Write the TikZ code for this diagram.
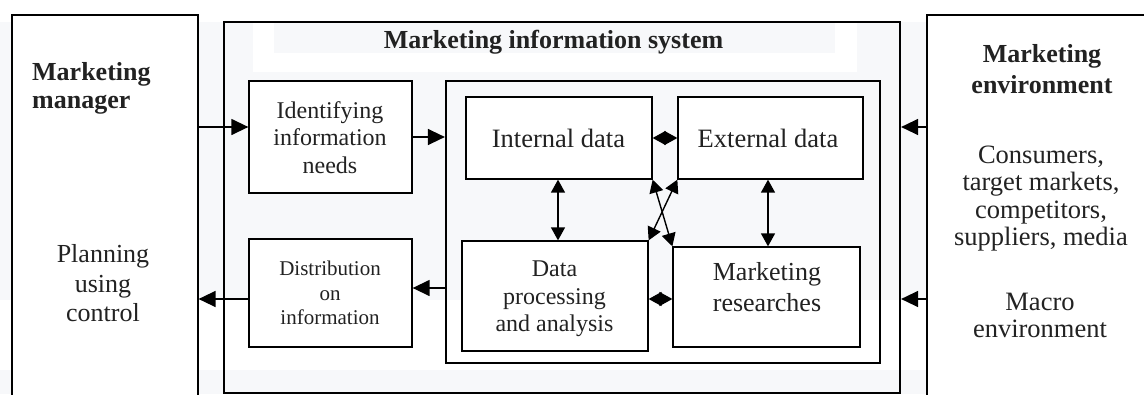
\documentclass[tikz,border=0pt]{standalone}
\usepackage{fontspec}
\setmainfont{Liberation Serif}
\usetikzlibrary{arrows.meta}
\definecolor{bg}{HTML}{F7F8FA}
\definecolor{ink}{HTML}{222222}
\newcommand\fsz[2]{\fontsize{#1}{#2}\selectfont}
\begin{document}
\begin{tikzpicture}[x=1pt,y=-1pt,
  box/.style={draw=black, fill=white, line width=1.3pt, inner sep=0pt},
  frame/.style={draw=black, line width=2.2pt, inner sep=0pt},
  side/.style={draw=black, fill=white, line width=1.2pt, inner sep=0pt},
  txt/.style={text=ink, inner sep=0pt, align=center},
  arr/.style={-{Triangle[length=17pt,width=16pt]}, line width=1.4pt},
  dbl/.style={{Triangle[length=13pt,width=14pt]}-{Triangle[length=13pt,width=14pt]}, line width=1.4pt}]
\useasboundingbox (0,0) rectangle (1144,394);
\clip (0,0) rectangle (1144,394);
% background patches
\fill[bg] (0,22) rectangle (1144,300);
\fill[bg] (0,370) rectangle (1144,394);
\fill[white] (253,22) rectangle (857,72);
\fill[bg] (274,23) rectangle (835,53);
% side boxes
\node[side, minimum width=186, minimum height=395] (mgr) at (105,212.5) {};
\node[side, minimum width=233, minimum height=395] (env) at (1043.5,212.5) {};
% frames
\node[frame, minimum width=676, minimum height=371] (mis) at (562,207.5) {};
\node[frame, minimum width=434, minimum height=282] (inner) at (663,222) {};
% boxes
\node[box, minimum width=163, minimum height=112] (ident) at (330.5,137) {};
\node[box, minimum width=163, minimum height=108] (dist) at (330.5,293) {};
\node[box, minimum width=186, minimum height=82] (intd) at (559,138) {};
\node[box, minimum width=185, minimum height=82] (extd) at (770.5,138) {};
\node[box, minimum width=186, minimum height=110] (dpa) at (555,296) {};
\node[box, minimum width=187, minimum height=100] (mr) at (766.5,297) {};
% texts
\node[txt, font=\bfseries\fsz{26}{28}, anchor=west, align=left] (mgrt) at (32,88) {Marketing\\manager};
\node[txt, font=\fsz{26}{29.5}] (plan) at (103,283.5) {Planning\\using\\control};
\node[txt, font=\bfseries\fsz{26}{28}] (mist) at (553.5,42) {Marketing information system};
\node[txt, font=\bfseries\fsz{26}{31}] (envt) at (1042,69.5) {Marketing\\environment};
\node[txt, font=\fsz{26.5}{27.5}] (cons) at (1041,198.3) {Consumers,\\target markets,\\competitors,\\suppliers, media};
\node[txt, font=\fsz{26.5}{27}] (macro) at (1040,315) {Macro\\environment};
\node[txt, font=\fsz{24}{27.5}] (identt) at (330,137.3) {Identifying\\information\\needs};
\node[txt, font=\fsz{26.5}{28}] (intdt) at (558.5,138) {Internal data};
\node[txt, font=\fsz{26.5}{28}] (extdt) at (768,138) {External data};
\node[txt, font=\fsz{24}{27.5}] (dpat) at (554.5,299) {Data\\processing\\and analysis};
\node[txt, font=\fsz{26}{31}] (mrt) at (767,287.5) {Marketing\\researches};
\node[txt, font=\fsz{21}{24.5}] (distt) at (330,293.3) {Distribution\\on\\information};
% connectors
\draw[arr] (mgr.east |- {(0,127)}) -- (ident.west |- {(0,127)});
\draw[arr] (ident.east) -- (inner.west |- ident.east);
\draw[dbl] (intd.east) -- (extd.west |- intd.east);
\draw[dbl] (intd.south -| {(558,0)}) -- (dpa.north -| {(558,0)});
\draw[dbl] (extd.south -| {(768,0)}) -- (mr.north -| {(768,0)});
\draw[dbl] (intd.south east) -- (mr.north west);
\draw[dbl] (extd.south west) -- (dpa.north east);
\draw[dbl] (dpa.east |- {(0,299)}) -- (mr.west |- {(0,299)});
\draw[arr] (inner.west |- {(0,288)}) -- (dist.east |- {(0,288)});
\draw[arr] (dist.west |- {(0,299)}) -- (mgr.east |- {(0,299)});
\draw[arr] (env.west |- {(0,127)}) -- (mis.east |- {(0,127)});
\draw[arr] (env.west |- {(0,299)}) -- (mis.east |- {(0,299)});
\end{tikzpicture}
\end{document}
